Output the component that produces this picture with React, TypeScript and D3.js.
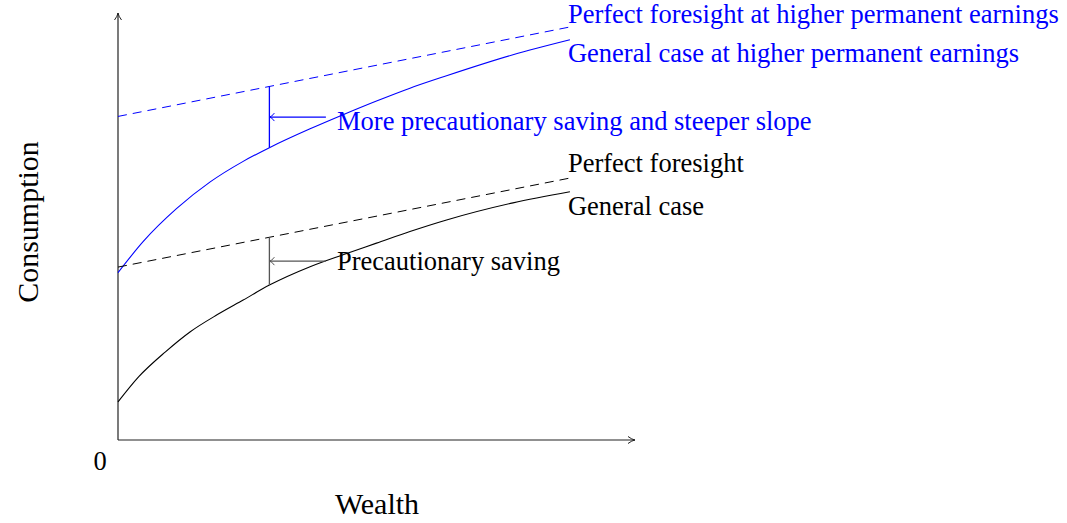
import React from 'react';
import * as d3 from 'd3';

// wealth (x) and consumption values
const wealthLow = [0, 0.46, 1.05, 1.6, 2.2, 2.77, 3.35, 4.25, 4.98, 5.72, 6.46, 7.27, 8.74, 10];
const generalCase = [0.89, 1.48, 2.06, 2.53, 2.93, 3.27, 3.62, 4.05, 4.33, 4.6, 4.87, 5.14, 5.54, 5.8];
const wealthHigh = [0, 0.56, 1.3, 2.04, 2.77, 3.35, 4.25, 4.98, 5.72, 6.46, 7.27, 8.74, 10];
const generalCaseHigh = [3.91, 4.64, 5.41, 6.03, 6.51, 6.83, 7.27, 7.6, 7.92, 8.22, 8.51, 9.0, 9.35];
const foresightEnds = [0, 10];
const perfectForesight = [4.04, 6.12];
const perfectForesightHigh = [7.56, 9.65];

// where the precautionary-saving gap is marked
const gapWealth = 3.35;
const gapArrowStart = 4.6;

const width = 1067;
const height = 523;
const font = '"Liberation Serif", "Times New Roman", serif';
const blue = '#0000ff';

function App() {
  const x = d3.scaleLinear().domain([0, 11.44]).range([118, 635]);
  const y = d3.scaleLinear().domain([0, 10]).range([440, 12]);

  const line = d3.line<[number, number]>()
    .x(d => x(d[0]))
    .y(d => y(d[1]))
    .curve(d3.curveMonotoneX);
  const straight = d3.line<[number, number]>()
    .x(d => x(d[0]))
    .y(d => y(d[1]));

  const pts = (xs: number[], ys: number[]) => xs.map((v, i) => [v, ys[i]] as [number, number]);

  const interp = (xs: number[], ys: number[], v: number) => {
    const f = d3.scaleLinear().domain(xs).range(ys);
    return f(v);
  };

  const gap = (xs: number[], curve: number[], fore: number[], color: string, key: string) => {
    const top = interp(foresightEnds, fore, gapWealth);
    const bottom = interp(xs, curve, gapWealth);
    const mid = (top + bottom) / 2;
    const gx = x(gapWealth);
    const my = y(mid);
    return (
      <g key={key} stroke={color} fill="none" strokeWidth={1.3}>
        <line x1={gx} x2={gx} y1={y(top)} y2={y(bottom)} />
        <line x1={x(gapArrowStart)} x2={gx + 0.5} y1={my} y2={my} />
        <path d={`M${gx + 5},${my - 4} Q${gx + 2},${my} ${gx},${my} Q${gx + 2},${my} ${gx + 5},${my + 4}`} strokeWidth={1} />
      </g>
    );
  };

  const endX = x(10);

  return (
    <svg width={width} height={height} style={{ position: 'absolute', left: 0, top: 0, background: '#fff' }}>
      {/* axes */}
      <g stroke="#222" strokeWidth={1.2} fill="none">
        <line x1={x(0)} x2={x(0)} y1={y(0)} y2={13} />
        <line x1={x(0)} x2={635} y1={y(0)} y2={y(0)} />
        <path d={`M${x(0) - 3.5},20 Q${x(0) - 0.5},16 ${x(0)},13 Q${x(0) + 0.5},16 ${x(0) + 3.5},20`} strokeWidth={1} />
        <path d={`M628,${y(0) - 3.5} Q632,${y(0) - 0.5} 635,${y(0)} Q632,${y(0) + 0.5} 628,${y(0) + 3.5}`} strokeWidth={1} />
      </g>

      {/* curves */}
      <path d={straight(pts(foresightEnds, perfectForesightHigh)) || ''} stroke={blue} fill="none" strokeWidth={1} strokeDasharray="9,6" />
      <path d={line(pts(wealthHigh, generalCaseHigh)) || ''} stroke={blue} fill="none" strokeWidth={1.1} />
      <path d={straight(pts(foresightEnds, perfectForesight)) || ''} stroke="#000" fill="none" strokeWidth={1} strokeDasharray="9,6" />
      <path d={line(pts(wealthLow, generalCase)) || ''} stroke="#000" fill="none" strokeWidth={1.1} />

      {gap(wealthHigh, generalCaseHigh, perfectForesightHigh, blue, 'high')}
      {gap(wealthLow, generalCase, perfectForesight, '#555', 'low')}

      {/* labels */}
      <g fontFamily={font} fontSize={26.5}>
        <text x={endX - 2} y={23} fill={blue}>Perfect foresight at higher permanent earnings</text>
        <text x={endX - 2} y={62} fill={blue}>General case at higher permanent earnings</text>
        <text x={337} y={130} fill={blue}>More precautionary saving and steeper slope</text>
        <text x={endX - 2} y={172} fill="#000">Perfect foresight</text>
        <text x={endX - 2} y={215} fill="#000">General case</text>
        <text x={337} y={270} fill="#000">Precautionary saving</text>
        <text x={100} y={470} textAnchor="middle" fill="#000">0</text>
      </g>
      <text x={377} y={514} textAnchor="middle" fontFamily={font} fontSize={30}>Wealth</text>
      <text transform="translate(38,222) rotate(-90)" textAnchor="middle" fontFamily={font} fontSize={30}>Consumption</text>
    </svg>
  );
}

export default App;
